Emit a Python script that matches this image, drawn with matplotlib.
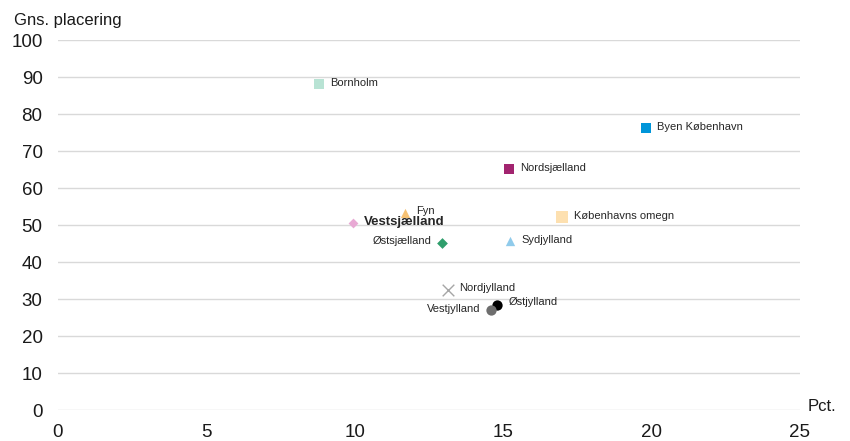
import matplotlib.pyplot as plt

# data
omraader = ['Bornholm', 'Byen København', 'Nordsjælland', 'Fyn', 'Vestsjælland',
            'Københavns omegn', 'Østsjælland', 'Sydjylland', 'Nordjylland',
            'Østjylland', 'Vestjylland']
pct = [8.8, 19.8, 15.2, 11.7, 9.95, 17.0, 12.95, 15.25, 13.15, 14.8, 14.6]
placering = [88.1, 76.2, 65.1, 53.2, 50.6, 52.1, 45.3, 45.6, 32.6, 28.5, 27.0]

farver = ['#b8e3d4', '#0095d9', '#a2246f', '#f7c274', '#e8a9d4', '#fde0b0',
          '#2f9e6c', '#90cbeb', '#a6a6a6', '#000000', '#6e6e6e']
markoerer = ['s', 's', 's', '^', 'D', 's', 'D', '^', 'x', 'o', 'o']
stoerrelse = [55, 55, 55, 45, 25, 70, 30, 45, 70, 55, 55]
# label side: 1 = right of marker, -1 = left
side = [1, 1, 1, 1, 1, 1, -1, 1, 1, 1, -1]

plt.rcParams['font.family'] = ['Liberation Sans', 'DejaVu Sans']

fig, ax = plt.subplots(figsize=(8.5, 4.41), dpi=100)
fig.subplots_adjust(left=0.068, right=0.941, top=0.909, bottom=0.07)

for i in range(len(omraader)):
    ax.scatter(pct[i], placering[i], marker=markoerer[i], s=stoerrelse[i],
               color=farver[i], linewidths=1 if markoerer[i] == 'x' else 0, zorder=3)
    dx = 8 if side[i] == 1 else -8
    ha = 'left' if side[i] == 1 else 'right'
    dy = 1
    if omraader[i] in ('Østjylland', 'Fyn'):
        dy = 2
    fs = 9.5 if omraader[i] == 'Vestsjælland' else 8
    vaegt = 'bold' if omraader[i] == 'Vestsjælland' else 'normal'
    ax.annotate(omraader[i], (pct[i], placering[i]), xytext=(dx, dy),
                textcoords='offset points', ha=ha, va='center', fontsize=fs,
                color='#262626', fontweight=vaegt, zorder=4)

ax.set_xlim(0, 25)
ax.set_ylim(0, 100)
ax.set_xticks(range(0, 26, 5))
ax.set_yticks(range(0, 101, 10))
ax.grid(axis='y', color='#d9d9d9', linewidth=1)
ax.set_axisbelow(True)
for s in ax.spines.values():
    s.set_visible(False)
ax.tick_params(length=0, labelsize=13.5, pad=10, labelcolor='#1a1a1a')
ax.tick_params(axis='y', pad=11)

ax.text(-0.059, 1.04, 'Gns. placering', transform=ax.transAxes, fontsize=12, color='#1a1a1a')
ax.text(1.011, -0.01, 'Pct.', transform=ax.transAxes, fontsize=12, va='bottom', color='#1a1a1a')

plt.savefig('out.png')
